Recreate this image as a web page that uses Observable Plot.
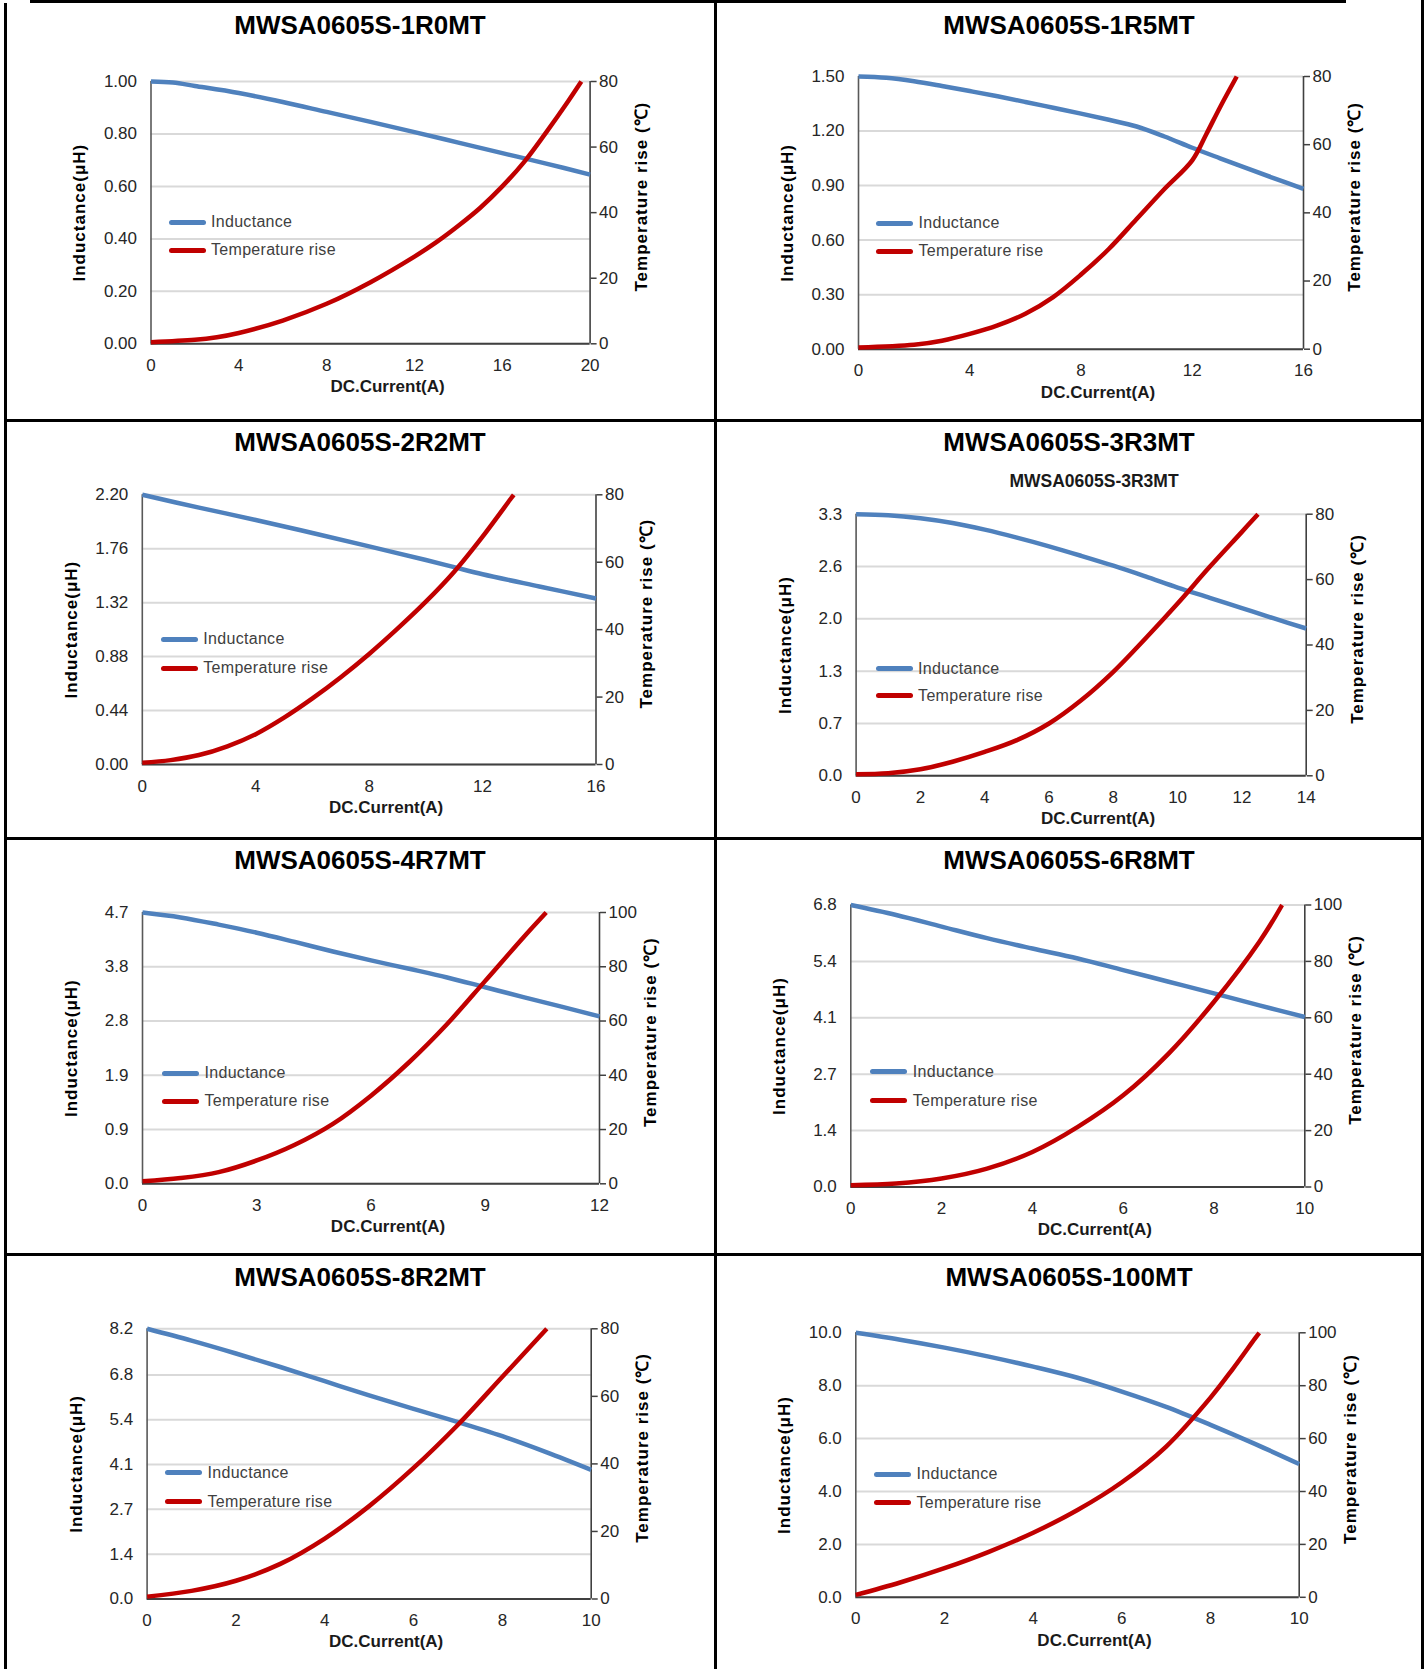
<!DOCTYPE html>
<html>
<head>
<meta charset="utf-8">
<script src="https://cdn.jsdelivr.net/npm/d3@7"></script>
<script src="https://cdn.jsdelivr.net/npm/@observablehq/plot@0.6"></script>
<style>
  html, body { margin: 0; padding: 0; background: #fff; }
  body { position: relative; width: 1424px; height: 1669px; overflow: hidden; font-family: "Liberation Sans", Arial, sans-serif; }
  .rule { position: absolute; background: #000; z-index: 10; }
  .title { position: absolute; font: bold 26px "Liberation Sans", Arial, sans-serif; color: #000; white-space: nowrap; transform: translate(-50%, -50%); z-index: 5; }
  .subtitle { position: absolute; font: bold 17.5px "Liberation Sans", Arial, sans-serif; color: #1a1a1a; white-space: nowrap; transform: translate(-50%, -50%); z-index: 5; }
  .swatch { position: absolute; width: 37px; height: 5px; border-radius: 2.5px; z-index: 5; }
  .legtext { position: absolute; font: 16px "Liberation Sans", Arial, sans-serif; letter-spacing: 0.3px; color: #404040; white-space: nowrap; transform: translateY(-52%); z-index: 5; }
</style>
</head>
<body>
<script>
// ---------------- data ----------------
const partNames = ["MWSA0605S-1R0MT", "MWSA0605S-1R5MT", "MWSA0605S-2R2MT", "MWSA0605S-3R3MT",
                   "MWSA0605S-4R7MT", "MWSA0605S-6R8MT", "MWSA0605S-8R2MT", "MWSA0605S-100MT"];
const currentMax = [20, 16, 16, 14, 12, 10, 10, 10];
const currentTickStep = [4, 4, 4, 2, 3, 2, 2, 2];
const inductanceMax = [1.00, 1.50, 2.20, 3.3, 4.7, 6.8, 8.2, 10.0];
const inductanceTickStep = [0.20, 0.30, 0.44, 0.66, 0.94, 1.36, 1.36, 2.0];
const inductanceDecimals = [2, 2, 2, 1, 1, 1, 1, 1];
const tempRiseMax = [80, 80, 80, 80, 100, 100, 80, 100];
const tempRiseTickStep = [20, 20, 20, 20, 20, 20, 20, 20];

const axisTitleY = "Inductance(μH)";
const axisTitleY2 = "Temperature rise (℃)";
const axisTitleX = "DC.Current(A)";
const legendLabels = ["Inductance", "Temperature rise"];
const subtitle3R3 = "MWSA0605S-3R3MT";

// 1R0
const indCurrent_1R0 = [0, 1, 2, 4, 6, 8, 10, 12, 14, 16, 18, 20];
const inductance_1R0 = [1.000, 0.996, 0.983, 0.956, 0.922, 0.884, 0.846, 0.807, 0.767, 0.727, 0.687, 0.645];
const tempCurrent_1R0 = [0, 2, 3, 4, 6, 8, 10, 12, 13, 14, 15, 16, 17, 18, 19, 19.6];
const tempRise_1R0 = [0.5, 1.2, 2.0, 3.3, 7.1, 12.2, 18.8, 26.6, 31, 36, 41.5, 48, 55.5, 64.5, 74, 80];
// 1R5
const indCurrent_1R5 = [0, 1, 2, 3, 4, 5, 6, 7, 8, 9, 10, 11, 12, 13, 14, 15, 16];
const inductance_1R5 = [1.500, 1.493, 1.474, 1.448, 1.420, 1.391, 1.360, 1.328, 1.296, 1.262, 1.225, 1.170, 1.108, 1.050, 0.993, 0.937, 0.882];
const tempCurrent_1R5 = [0, 2, 3, 4, 5, 6, 7, 8, 9, 10, 11, 12, 12.5, 13, 13.6];
const tempRise_1R5 = [0.5, 1.3, 2.5, 4.5, 7.0, 10.4, 15.3, 21.9, 29.4, 38.2, 47, 55.4, 63, 71, 80];
// 2R2
const indCurrent_2R2 = [0, 2, 4, 6, 8, 10, 11, 12, 14, 16];
const inductance_2R2 = [2.200, 2.095, 1.995, 1.888, 1.779, 1.668, 1.610, 1.552, 1.452, 1.354];
const tempCurrent_2R2 = [0, 1, 2, 3, 4, 5, 6, 7, 8, 9, 10, 11, 12, 13, 13.1];
const tempRise_2R2 = [0.5, 1.3, 2.8, 5.4, 9.0, 13.9, 19.6, 25.9, 32.8, 40.3, 48.3, 57.2, 67.6, 78.9, 80];
// 3R3
const indCurrent_3R3 = [0, 1, 2, 3, 4, 5, 6, 7, 8, 9, 10, 11, 12, 13, 14];
const inductance_3R3 = [3.300, 3.288, 3.250, 3.190, 3.105, 3.005, 2.895, 2.775, 2.650, 2.515, 2.375, 2.245, 2.115, 1.985, 1.858];
const tempCurrent_3R3 = [0, 1, 2, 3, 4, 5, 6, 7, 8, 9, 10, 11, 12, 12.5];
const tempRise_3R3 = [0.5, 0.8, 2.0, 4.3, 7.3, 10.9, 16, 23.1, 31.8, 42, 52.7, 63.9, 74.6, 80];
// 4R7
const indCurrent_4R7 = [0, 1, 2, 3, 4, 5, 6, 7, 8, 9, 10, 11, 12];
const inductance_4R7 = [4.700, 4.615, 4.490, 4.350, 4.190, 4.025, 3.870, 3.725, 3.575, 3.405, 3.235, 3.070, 2.900];
const tempCurrent_4R7 = [0, 1, 2, 3, 4, 5, 6, 7, 8, 9, 10, 10.6];
const tempRise_4R7 = [0.9, 2.1, 4.3, 8.6, 14.4, 22.1, 32.5, 44.8, 58.9, 74.8, 90.8, 100];
// 6R8
const indCurrent_6R8 = [0, 1, 2, 3, 4, 5, 6, 7, 8, 9, 10];
const inductance_6R8 = [6.80, 6.56, 6.28, 6.00, 5.75, 5.51, 5.23, 4.95, 4.67, 4.38, 4.10];
const tempCurrent_6R8 = [0, 1, 2, 3, 4, 5, 6, 7, 8, 9, 9.5];
const tempRise_6R8 = [0.6, 1.2, 3.0, 6.5, 12.4, 21.3, 32.5, 47.3, 65.7, 87, 100];
// 8R2
const indCurrent_8R2 = [0, 1, 2, 3, 4, 5, 6, 7, 8, 9, 10];
const inductance_8R2 = [8.20, 7.84, 7.45, 7.04, 6.61, 6.18, 5.77, 5.37, 4.94, 4.45, 3.92];
const tempCurrent_8R2 = [0, 1, 2, 3, 4, 5, 6, 7, 8, 9];
const tempRise_8R2 = [0.7, 2.4, 5.4, 10.4, 17.9, 27.5, 38.8, 51.6, 65.8, 80];
// 100
const indCurrent_100 = [0, 1, 2, 3, 4, 5, 6, 7, 8, 9, 10];
const inductance_100 = [10.0, 9.74, 9.44, 9.10, 8.72, 8.30, 7.78, 7.20, 6.52, 5.80, 5.04];
const tempCurrent_100 = [0, 1, 2, 3, 4, 5, 6, 7, 8, 8.5, 9, 9.1];
const tempRise_100 = [0.9, 5.6, 11.0, 17.2, 24.4, 33.0, 43.5, 57.0, 75.5, 86.3, 97.8, 100];

const inductanceCurrents = [indCurrent_1R0, indCurrent_1R5, indCurrent_2R2, indCurrent_3R3, indCurrent_4R7, indCurrent_6R8, indCurrent_8R2, indCurrent_100];
const inductanceValues = [inductance_1R0, inductance_1R5, inductance_2R2, inductance_3R3, inductance_4R7, inductance_6R8, inductance_8R2, inductance_100];
const tempCurrents = [tempCurrent_1R0, tempCurrent_1R5, tempCurrent_2R2, tempCurrent_3R3, tempCurrent_4R7, tempCurrent_6R8, tempCurrent_8R2, tempCurrent_100];
const tempRiseValues = [tempRise_1R0, tempRise_1R5, tempRise_2R2, tempRise_3R3, tempRise_4R7, tempRise_6R8, tempRise_8R2, tempRise_100];

// ---------------- layout (pixels) ----------------
const cellX = [0, 712];
const cellY = [0, 418, 836, 1252];
const cellW = 712, cellH = 417;
// frame [left, right, top, bottom] in page coordinates
const frames = [
  [150.5, 589.6, 81, 343.3], [858, 1303, 76, 348.7],
  [141.8, 595.5, 494.3, 764], [855.6, 1305.7, 513.7, 775.3],
  [142, 599, 912, 1183.3], [850.3, 1304.3, 904.5, 1186.5],
  [146.6, 590.7, 1328.3, 1598.5], [855.3, 1298.7, 1332.3, 1596.8]
];
const titleCenterX = [360, 1069];
const titleCenterY = [25, 442, 860, 1277];
// legend [dx from frame left, row1 dy, row2 dy from frame top]
const legendPos = [
  [18, 141, 169], [18, 147, 175], [19, 145, 174], [20, 155, 182],
  [20, 161, 189], [20, 167, 196], [18.4, 144.3, 173.3], [18.7, 142, 170.3]
];
const BLUE = "#4f81bd", RED = "#c00000";
const tickFont = "'Liberation Sans', Arial, sans-serif";

function el(cls, css, text) {
  const d = document.createElement("div");
  d.className = cls;
  Object.assign(d.style, css);
  if (text != null) d.textContent = text;
  document.body.appendChild(d);
  return d;
}

function drawPanel(i) {
  const cx = cellX[i % 2], cy = cellY[Math.floor(i / 2)];
  const [L, R, T, B] = frames[i];
  const k = inductanceMax[i] / tempRiseMax[i];
  const lStep = inductanceTickStep[i];
  const lTicks = d3.range(0, inductanceMax[i] - lStep * 0.5, lStep).concat([inductanceMax[i]]);
  const tTicks = d3.range(0, tempRiseMax[i] + 1e-6, tempRiseTickStep[i]).map(t => t * k);
  const xTicks = d3.range(0, currentMax[i] + 1e-6, currentTickStep[i]);
  const indData = inductanceCurrents[i].map((c, j) => ({current: c, value: inductanceValues[i][j]}));
  const tempData = tempCurrents[i].map((c, j) => ({current: c, value: tempRiseValues[i][j] * k}));
  const fmt = d3.format("." + inductanceDecimals[i] + "f");

  const svg = Plot.plot({
    width: cellW, height: cellH,
    marginLeft: L - cx, marginRight: cx + cellW - R,
    marginTop: T - cy, marginBottom: cy + cellH - B,
    x: {domain: [0, currentMax[i]]},
    y: {domain: [0, inductanceMax[i]]},
    style: {background: "transparent", color: "#262626", overflow: "visible"},
    marks: [
      Plot.gridY(lTicks, {stroke: "#d9d9d9", strokeOpacity: 1, strokeWidth: 2}),
      Plot.axisY(lTicks, {anchor: "left", tickSize: 0, tickPadding: 14, tickFormat: fmt, label: null,
        fontFamily: tickFont, fontSize: 17, fill: "#262626"}),
      Plot.axisY(tTicks, {anchor: "right", tickSize: 6, tickPadding: 3, tickFormat: v => String(Math.round(v / k)), label: null,
        fontFamily: tickFont, fontSize: 17, fill: "#262626", stroke: "#404040", strokeWidth: 1.5}),
      Plot.axisX(xTicks, {anchor: "bottom", tickSize: 0, tickPadding: 15, label: null,
        fontFamily: tickFont, fontSize: 17, fill: "#262626"}),
      Plot.ruleX([0], {stroke: "#595959", strokeWidth: 1.6}),
      Plot.ruleX([currentMax[i]], {stroke: "#404040", strokeWidth: 1.6}),
      Plot.ruleY([0], {stroke: "#404040", strokeWidth: 2}),
      Plot.line(indData, {x: "current", y: "value", stroke: BLUE, strokeWidth: 4.5, curve: "catmull-rom", strokeLinecap: "butt"}),
      Plot.line(tempData, {x: "current", y: "value", stroke: RED, strokeWidth: 4.5, curve: "catmull-rom", strokeLinecap: "butt"}),
      Plot.text([axisTitleY], {frameAnchor: "left", dx: -71, rotate: -90, textAnchor: "middle", lineAnchor: "middle",
        fontWeight: "bold", fontSize: 17, fill: "#000", fontFamily: "'Liberation Sans', Arial, sans-serif"}),
      Plot.text([axisTitleY2], {frameAnchor: "right", dx: 51, dy: -16, rotate: -90, textAnchor: "middle", lineAnchor: "middle",
        fontWeight: "bold", fontSize: 17, fill: "#000", fontFamily: "'Liberation Sans', Arial, sans-serif"}),
      Plot.text([axisTitleX], {frameAnchor: "bottom", dx: 17, dy: 43, textAnchor: "middle", lineAnchor: "middle",
        fontWeight: "bold", fontSize: 17, fill: "#1a1a1a", fontFamily: tickFont})
    ]
  });
  svg.querySelectorAll("text").forEach(t => {
    if (t.textContent === axisTitleY || t.textContent === axisTitleY2) t.setAttribute("letter-spacing", "1");
  });
  svg.style.position = "absolute";
  svg.style.left = cx + "px";
  svg.style.top = cy + "px";
  svg.style.background = "transparent";
  svg.style.maxWidth = "none";
  document.body.appendChild(svg);

  // title
  el("title", {left: titleCenterX[i % 2] + "px", top: titleCenterY[Math.floor(i / 2)] + "px"}, partNames[i]);
  // legend
  const [ldx, r1, r2] = legendPos[i];
  [[r1, BLUE, legendLabels[0]], [r2, RED, legendLabels[1]]].forEach(([dy, col, txt]) => {
    el("swatch", {left: (L + ldx) + "px", top: (T + dy - 2.5) + "px", background: col});
    el("legtext", {left: (L + ldx + 42.5) + "px", top: (T + dy) + "px"}, txt);
  });
}

for (let i = 0; i < partNames.length; i++) drawPanel(i);
el("subtitle", {left: "1094px", top: "481px"}, subtitle3R3);

// table borders
el("rule", {left: "30px", top: "0px", width: "1316px", height: "3px"});
el("rule", {left: "4px", top: "3px", width: "2.5px", height: "1666px"});
el("rule", {left: "714px", top: "0px", width: "2.5px", height: "1669px"});
el("rule", {left: "1421px", top: "0px", width: "2.5px", height: "1669px"});
[419, 837, 1253].forEach(y => el("rule", {left: "4px", top: y + "px", width: "1419px", height: "2.5px"}));
</script>
</body>
</html>
